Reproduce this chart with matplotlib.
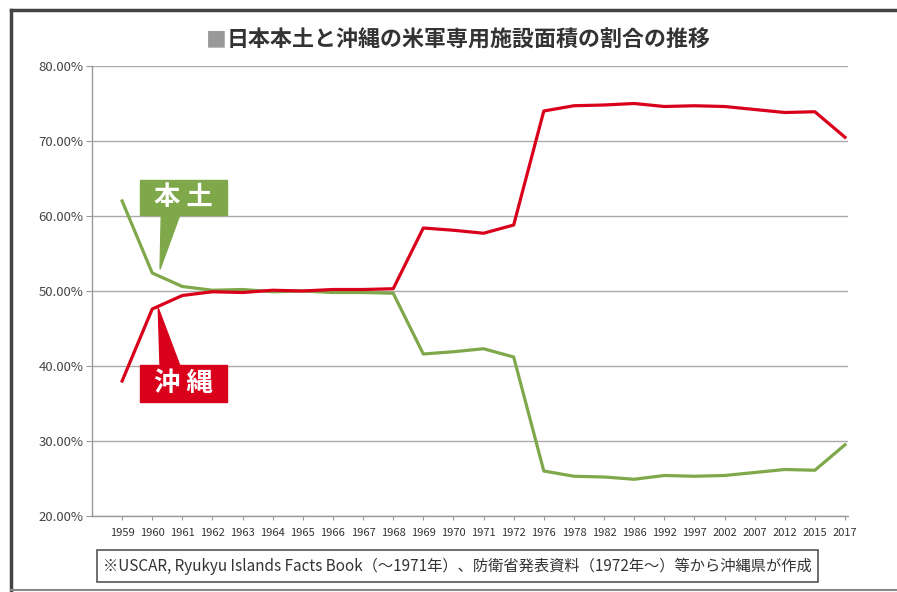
import matplotlib.pyplot as plt
from matplotlib.patches import Rectangle

plt.rcParams['font.family'] = ['Noto Sans CJK JP', 'DejaVu Sans']

years = ['1959', '1960', '1961', '1962', '1963', '1964', '1965', '1966', '1967', '1968',
         '1969', '1970', '1971', '1972', '1976', '1978', '1982', '1986', '1992', '1997',
         '2002', '2007', '2012', '2015', '2017']

# 沖縄 share (%)
okinawa = [38.0, 47.6, 49.4, 49.9, 49.8, 50.1, 50.0, 50.2, 50.2, 50.3,
           58.4, 58.1, 57.7, 58.8, 74.0, 74.7, 74.8, 75.0, 74.6, 74.7,
           74.6, 74.2, 73.8, 73.9, 70.5]
# 本土 share (%)
hondo = [62.0, 52.4, 50.6, 50.1, 50.2, 49.9, 50.0, 49.8, 49.8, 49.7,
         41.6, 41.9, 42.3, 41.2, 26.0, 25.3, 25.2, 24.9, 25.4, 25.3,
         25.4, 25.8, 26.2, 26.1, 29.5]

yticks = [20, 30, 40, 50, 60, 70, 80]

red = '#d9001b'
green = '#7fa84a'

fig = plt.figure(figsize=(8.97, 5.92), dpi=100)
ax = fig.add_axes([92/897, 1-516/592, (848-92)/897, (516-66)/592])

x = list(range(len(years)))
ax.plot(x, hondo, color=green, lw=2.3, solid_joinstyle='round', zorder=3)
ax.plot(x, okinawa, color=red, lw=2.3, solid_joinstyle='round', zorder=4)

ax.set_xlim(-1, 24.1)
ax.set_ylim(20, 80)
ax.set_yticks(yticks)
ax.set_yticklabels([f'{v:.2f}%' for v in yticks], fontsize=9.5, color='#444444')
ax.set_xticks(x)
ax.set_xticklabels(years, fontsize=8, color='#333333')
ax.tick_params(axis='y', length=4, color='#999999', pad=2)
ax.tick_params(axis='x', length=3, color='#999999', pad=6)
ax.grid(axis='y', color='#aaaaaa', lw=1)
ax.set_axisbelow(True)
for s in ['top', 'right']:
    ax.spines[s].set_visible(False)
for s in ['left', 'bottom']:
    ax.spines[s].set_color('#999999')
    ax.spines[s].set_linewidth(1)

# callouts
ax.fill([0.6, 3.48, 3.48, 0.6], [64.8, 64.8, 60.1, 60.1], color=green, clip_on=False, zorder=5)
ax.fill([1.3, 1.93, 1.26], [60.3, 60.3, 52.9], color=green, clip_on=False, zorder=5)
ax.text(2.04, 62.45, '本 土', color='white', fontsize=19, fontweight='bold', ha='center', va='center', zorder=6)

ax.fill([0.6, 3.48, 3.48, 0.6], [40.1, 40.1, 35.2, 35.2], color=red, clip_on=False, zorder=5)
ax.fill([1.26, 1.93, 1.2], [39.9, 39.9, 47.7], color=red, clip_on=False, zorder=5)
ax.text(2.04, 37.65, '沖 縄', color='white', fontsize=19, fontweight='bold', ha='center', va='center', zorder=6)

# title
fig.text(227/897, 1-40/592, '■', color='#999999', fontsize=15, fontweight='bold', ha='right', va='center')
fig.text(469/897, 1-40/592, '日本本土と沖縄の米軍専用施設面積の割合の推移', color='#333333',
         fontsize=15.8, fontweight='bold', ha='center', va='center')

# footnote box
fig.add_artist(Rectangle((97/897, 1-582/592), (818-97)/897, 32/592, transform=fig.transFigure,
                         fill=False, edgecolor='#555555', lw=1.2))
fig.text(457/897, 1-566/592, '※USCAR, Ryukyu Islands Facts Book（～1971年）、防衛省発表資料（1972年～）等から沖縄県が作成',
         fontsize=11, color='#333333', ha='center', va='center')

# outer frame
fig.add_artist(plt.Line2D([11/897, 11/897], [1-590/592, 1-10/592], transform=fig.transFigure, color='#444444', lw=2.5))
fig.add_artist(plt.Line2D([11/897, 1], [1-10/592, 1-10/592], transform=fig.transFigure, color='#444444', lw=2.5))
fig.add_artist(plt.Line2D([11/897, 1], [1-590/592, 1-590/592], transform=fig.transFigure, color='#888888', lw=1.5))

fig.savefig('out.png', dpi=100)
